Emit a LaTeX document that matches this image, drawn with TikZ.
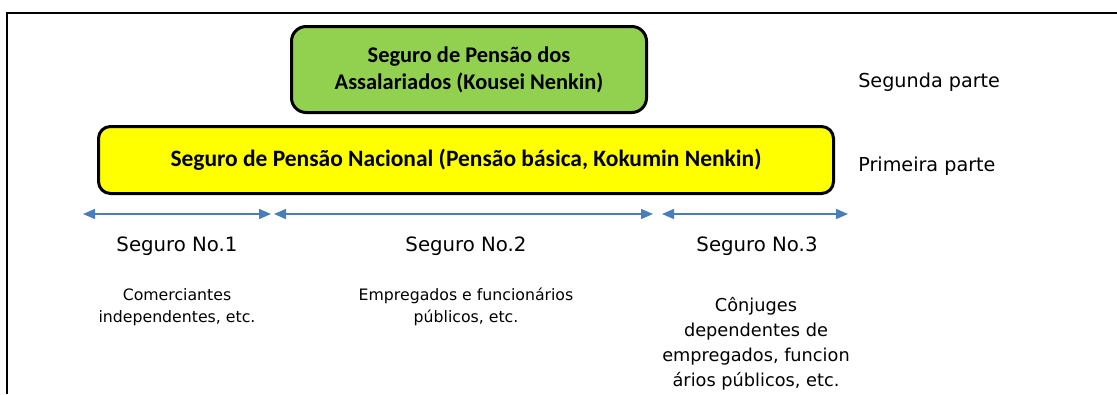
\documentclass[tikz,border=0pt]{standalone}
\usepackage{fontspec}
\setmainfont{DejaVu Sans}
\newfontfamily\boxfont{Carlito}
\usetikzlibrary{arrows.meta}
\definecolor{boxgreen}{HTML}{92D050}
\definecolor{boxyellow}{HTML}{FFFF00}
\definecolor{arrowblue}{HTML}{4A7EBB}
\begin{document}
\begin{tikzpicture}[x=0.75pt,y=-0.75pt,
  pillar/.style={draw=black, line width=2.25pt, inner sep=0pt, font=\boxfont\bfseries, align=center},
  span/.style={draw=arrowblue, line width=1.1pt, {Triangle[length=9pt,width=7.5pt]}-{Triangle[length=9pt,width=7.5pt]}},
  partlabel/.style={anchor=base west, inner sep=0pt, font=\fontsize{14.4}{17}\selectfont},
  grouplabel/.style={anchor=base, inner sep=0pt, font=\fontsize{14.8}{17}\selectfont},
  desc/.style={anchor=base, inner sep=0pt, align=center, font=\fontsize{11.8}{16.5}\selectfont},
]
\useasboundingbox (0,0) rectangle (1117,394);
\draw[line width=1.5pt] (1117,12.5) -- (7,12.5) -- (7,394);

\node[pillar, fill=boxgreen, rounded corners=11pt, minimum width=266.25pt, minimum height=64.5pt,
      font=\boxfont\bfseries\fontsize{16.8}{20.25}\selectfont] (kousei) at (469,69.5)
  {Seguro de Pensão dos\\Assalariados (Kousei Nenkin)};
\node[pillar, fill=boxyellow, rounded corners=9pt, minimum width=551.25pt, minimum height=50.25pt,
      font=\boxfont\bfseries\fontsize{17.6}{20}\selectfont] (kokumin) at (466,160)
  {Seguro de Pensão Nacional (Pensão básica, Kokumin Nenkin)};

\node[partlabel] (p2) at (858,87) {Segunda parte};
\node[partlabel] (p1) at (858,171) {Primeira parte};

\coordinate (s1a) at (83,214);
\coordinate (s1b) at (271,214);
\coordinate (s2a) at (274,214);
\coordinate (s2b) at (653,214);
\coordinate (s3a) at (662,214);
\coordinate (s3b) at (848,214);
\draw[span] (s1a) -- (s1b);
\draw[span] (s2a) -- (s2b);
\draw[span] (s3a) -- (s3b);

\node[grouplabel] (g1) at (177,251) {Seguro No.1};
\node[grouplabel] (g2) at (466,251) {Seguro No.2};
\node[grouplabel] (g3) at (757,251) {Seguro No.3};

\node[desc] (d1) at (177,322) {Comerciantes\\independentes, etc.};
\node[desc] (d2) at (466,322) {Empregados e funcionários\\públicos, etc.};
\node[desc, font=\fontsize{13.3}{18.75}\selectfont] (d3) at (756,386)
  {Cônjuges\\dependentes de\\empregados, funcion\\ários públicos, etc.};
\end{tikzpicture}
\end{document}
